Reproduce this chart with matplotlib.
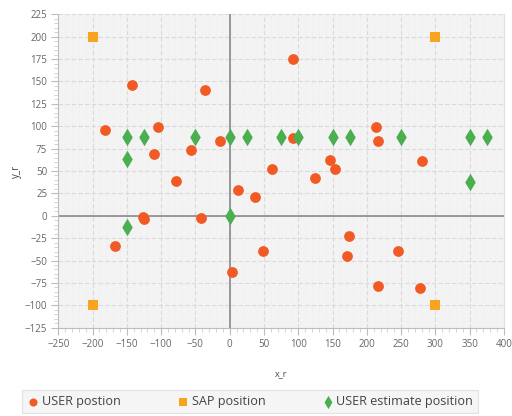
import matplotlib
matplotlib.use("Agg")
import matplotlib.pyplot as plt
from matplotlib.ticker import MultipleLocator

plt.rcParams['font.family'] = ['Open Sans', 'DejaVu Sans']

# USER position
user_x = [-182, -143, -105, -111, -36, -57, -79, -14, 12, 37, 93, 93, 213, 216, 146,
          153, 124, 62, 280, -126, -125, -42, -168, 4, 49, 174, 171, 245, 217, 277]
user_y = [96, 146, 99, 69, 140, 73, 39, 83, 29, 21, 175, 87, 99, 83, 62,
          52, 42, 52, 61, -1, -4, -3, -34, -63, -39, -23, -45, -39, -78, -81]

# SAP position
sap_x = [-200, 300, -200, 300]
sap_y = [200, 200, -100, -100]

# USER estimate position
est_x = [-150, -125, -50, 0, 25, 75, 100, 150, 175, 250, 350, 375, -150, -150, 0, 350]
est_y = [88, 88, 88, 88, 88, 88, 88, 88, 88, 88, 88, 88, 63, -12, 0, 38]

labels = ["USER postion", "SAP position", "USER estimate position"]
colors = ["#F15A24", "#F7A51E", "#4BAE4F"]

fig = plt.figure(figsize=(5.12, 4.16), dpi=100)
ax = fig.add_axes([0.1139, 0.2123, 0.8703, 0.7533])
ax.set_facecolor("#F3F3F3")

ax.set_xlim(-250, 400)
ax.set_ylim(-125, 225)
ax.xaxis.set_major_locator(MultipleLocator(50))
ax.xaxis.set_minor_locator(MultipleLocator(10))
ax.yaxis.set_major_locator(MultipleLocator(25))
ax.yaxis.set_minor_locator(MultipleLocator(5))

ax.grid(which="major", color="#DADADA", linestyle=(0, (4, 2)), linewidth=0.8)
ax.grid(which="minor", axis="x", color="#EDEDED", linestyle=(0, (2, 2)), linewidth=0.5)
ax.set_axisbelow(True)

ax.axhline(0, color="#8A8A8A", linewidth=1.2, zorder=1)
ax.axvline(0, color="#8A8A8A", linewidth=1.2, zorder=1)

ax.spines["top"].set_visible(False)
ax.spines["right"].set_color("#E2E2E2")
ax.spines["right"].set_linewidth(0.8)
for side in ["left", "bottom"]:
    ax.spines[side].set_color("#BDBDBD")
    ax.spines[side].set_linewidth(0.8)

ax.tick_params(which="major", length=5, color="#BDBDBD", labelsize=7,
               labelcolor="#666666", pad=3)
ax.tick_params(which="minor", length=3, color="#CCCCCC")

ax.scatter(user_x, user_y, s=60, marker="o", color=colors[0], linewidths=0,
           label=labels[0], zorder=3)
ax.scatter(sap_x, sap_y, s=60, marker="s", color=colors[1], linewidths=0,
           label=labels[1], zorder=3)
ax.scatter(est_x, est_y, s=80, marker="d", color=colors[2], linewidths=0,
           label=labels[2], zorder=4)

ax.set_xlabel("x_r", fontsize=6.5, color="#444444", labelpad=14)
ax.set_ylabel("y_r", fontsize=7, color="#444444", labelpad=2)

handles, lbls = ax.get_legend_handles_labels()
leg = fig.legend(handles, lbls, loc="lower left", ncol=3,
                 bbox_to_anchor=(22 / 512, 3 / 416),
                 fontsize=9.1, frameon=True, fancybox=False,
                 handletextpad=0.2, handlelength=1.0, borderpad=0.4,
                 columnspacing=4.4, markerscale=0.75, borderaxespad=0.0)
leg.get_frame().set_facecolor("#F3F3F3")
leg.get_frame().set_edgecolor("#DDDDDD")
leg.get_frame().set_linewidth(0.8)
for t in leg.get_texts():
    t.set_color("#444444")

fig.savefig("out.png", dpi=100)
